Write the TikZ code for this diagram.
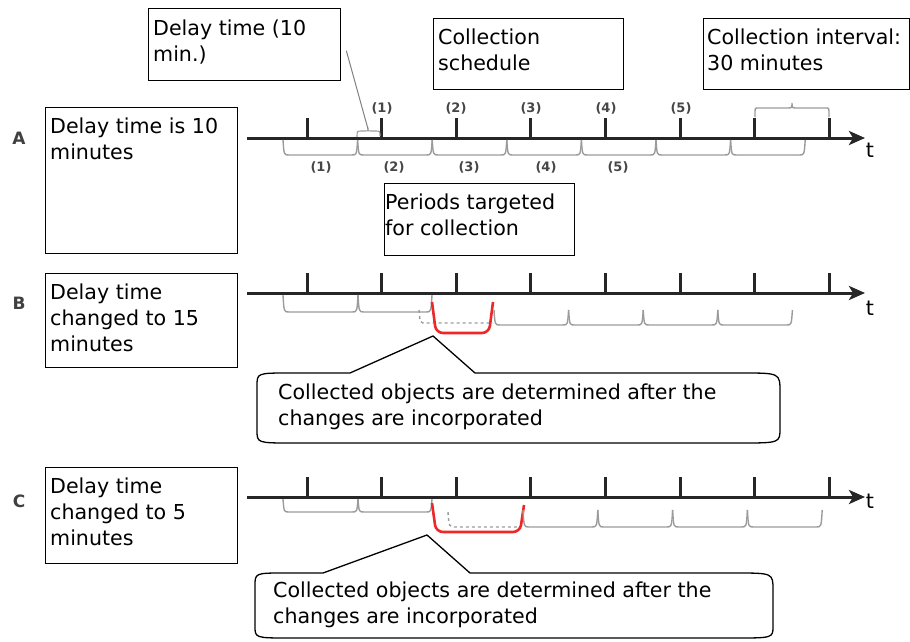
\documentclass[tikz,border=0pt]{standalone}
\usepackage{fontspec}
\setmainfont{DejaVu Sans}
\usetikzlibrary{arrows.meta}
\definecolor{brgray}{RGB}{155,155,155}
\definecolor{redu}{RGB}{238,40,40}
\definecolor{numc}{RGB}{70,70,70}
\newcommand\brc[4]{\draw[brace] (#1,#3) .. controls (#1+1,#4) .. (#1+6,#4) -- (#2-6,#4) .. controls (#2-1,#4) .. (#2,#3);}
\begin{document}
\begin{tikzpicture}[x=1pt,y=-1pt,
  box/.style={draw, line width=1.3pt, inner sep=0pt, anchor=north west},
  txt/.style={anchor=north west, align=left, inner sep=0pt, font=\fontsize{20.6}{26}\selectfont},
  brace/.style={draw=brgray, line width=1.4pt},
  tline/.style={line width=3pt, draw=black!85, -{Stealth[length=16pt,width=14pt,inset=4pt]}},
  tickmark/.style={line width=3pt, draw=black!85},
  num/.style={font=\fontsize{13}{13}\selectfont\bfseries, text=numc, inner sep=0pt},
  lab/.style={font=\fontsize{17}{17}\selectfont\bfseries, text=black!75, inner sep=0pt},
  tlab/.style={font=\fontsize{20.6}{20.6}\selectfont, inner sep=0pt},
  redline/.style={draw=redu, line width=2.6pt, rounded corners=7pt},
  callout/.style={draw, line width=1.3pt},
  ptr/.style={draw=gray, line width=1pt}]
\useasboundingbox (0,0) rectangle (910,642);

% ---------- boxes ----------
\node[box, minimum width=192pt, minimum height=72pt] (bDelay) at (148,8) {};
\node[txt] (tDelay) at ([shift={(5,12)}]bDelay.north west) {Delay time (10\\min.)};
\node[box, minimum width=190pt, minimum height=71pt] (bSched) at (433,18) {};
\node[txt] (tSched) at ([shift={(5,11)}]bSched.north west) {Collection\\schedule};
\node[box, minimum width=206pt, minimum height=71pt] (bInt) at (703,18) {};
\node[txt] (tInt) at ([shift={(4,11)}]bInt.north west) {Collection interval:\\30 minutes};
\node[box, minimum width=192pt, minimum height=146pt] (bA) at (45,107) {};
\node[txt] (tA) at ([shift={(5,11)}]bA.north west) {Delay time is 10\\minutes};
\node[box, minimum width=190pt, minimum height=72pt] (bPer) at (384,183) {};
\node[txt] (tPer) at ([shift={(1,11)}]bPer.north west) {Periods targeted\\for collection};
\node[box, minimum width=192pt, minimum height=94pt] (bB) at (45,273) {};
\node[txt] (tB) at ([shift={(5,11)}]bB.north west) {Delay time\\changed to 15\\minutes};
\node[box, minimum width=192pt, minimum height=96pt] (bC) at (45,467) {};
\node[txt] (tC) at ([shift={(5,11)}]bC.north west) {Delay time\\changed to 5\\minutes};

% ---------- row labels ----------
\node[lab] (lA) at (19,138) {A};
\node[lab] (lB) at (19,303) {B};
\node[lab] (lC) at (19,501) {C};

% ---------- timelines ----------
\foreach \r/\y in {A/138, B/293, C/497}{
  \coordinate (s\r) at (247,\y);
  \coordinate (e\r) at (865,\y);
  \foreach \k in {0,...,7}{
    \pgfmathsetmacro\xx{307+74.6*\k}
    \draw[tickmark] (\xx,\y) -- (\xx,\y-20);
  }
  \draw[tline] (s\r) -- (e\r);
}
\node[tlab] (tA1) at (870,150) {t};
\node[tlab] (tB1) at (870,308) {t};
\node[tlab] (tC1) at (870,501) {t};

% ---------- row A ----------
\foreach \k in {0,...,6}{
  \pgfmathsetmacro\xa{283+74.6*\k}
  \pgfmathsetmacro\xb{283+74.6*(\k+1)}
  \brc{\xa}{\xb}{140}{155}
}
\foreach \n/\x in {1/382,2/456,3/531,4/606,5/681}{
  \node[num] (up\n) at (\x,108) {(\n)};
}
\foreach \n/\x in {1/321,2/394,3/469,4/546,5/618}{
  \node[num] (dn\n) at (\x,167) {(\n)};
}
% collection interval brace
\draw[brace] (755,117) -- (755,111) .. controls (755,108) .. (759,108) -- (787,108)
  .. controls (792,108) .. (792,103) .. controls (792,108) .. (797,108) -- (825,108)
  .. controls (829,108) .. (829,111) -- (829,117);
% small delay brace
\coordinate (dlyTip) at (368,129);
\draw[brace, line width=1.1pt] (357,137) .. controls (357,131) .. (362,131) -- (365,131)
  .. controls (368,131) .. (dlyTip) .. controls (368,131) .. (371,131) -- (375,131)
  .. controls (380,131) .. (380,136);
\draw[ptr] ([shift={(5,6)}]bDelay.east) -- (dlyTip);

% ---------- row B ----------
\brc{283}{358}{295}{312}
\brc{358}{432}{295}{312}
\draw[brace, dash pattern=on 3pt off 3pt] (419,310) .. controls (420,323) .. (426,323) -- (493,323);
\draw[redline] (432,302) -- (436,333) -- (489,333) -- (493,302);
\foreach \k in {0,...,3}{
  \pgfmathsetmacro\xa{494+74.6*\k}
  \pgfmathsetmacro\xb{494+74.6*(\k+1)}
  \brc{\xa}{\xb}{310}{325}
}
\coordinate (tipB) at (433,336);
\draw[callout] (350,373) -- (tipB) -- (475,373) -- (742,373) .. controls (780,373) .. (780,392)
  -- (780,428) .. controls (780,443) .. (740,443) -- (292,443) .. controls (257,443) .. (257,430)
  -- (257,386) .. controls (257,373) .. (290,373) -- cycle;
\node[txt] (tcB) at (278,384) {Collected objects are determined after the\\changes are incorporated};

% ---------- row C ----------
\brc{283}{358}{499}{512}
\brc{358}{432}{499}{512}
\draw[brace, dash pattern=on 3pt off 3pt] (448,512) .. controls (449,527) .. (456,527) -- (520,527);
\draw[redline] (432,503) -- (436,532) -- (520,532) -- (524,505);
\foreach \k in {0,...,3}{
  \pgfmathsetmacro\xa{523+74.8*\k}
  \pgfmathsetmacro\xb{523+74.8*(\k+1)}
  \brc{\xa}{\xb}{510}{527}
}
\coordinate (tipC) at (427,535);
\draw[callout] (323,573) -- (tipC) -- (470,573) -- (735,573) .. controls (773,573) .. (773,590)
  -- (773,626) .. controls (773,638) .. (735,638) -- (290,638) .. controls (255,638) .. (255,626)
  -- (255,586) .. controls (255,573) .. (285,573) -- cycle;
\node[txt] (tcC) at (273,582) {Collected objects are determined after the\\changes are incorporated};
\end{tikzpicture}
\end{document}
